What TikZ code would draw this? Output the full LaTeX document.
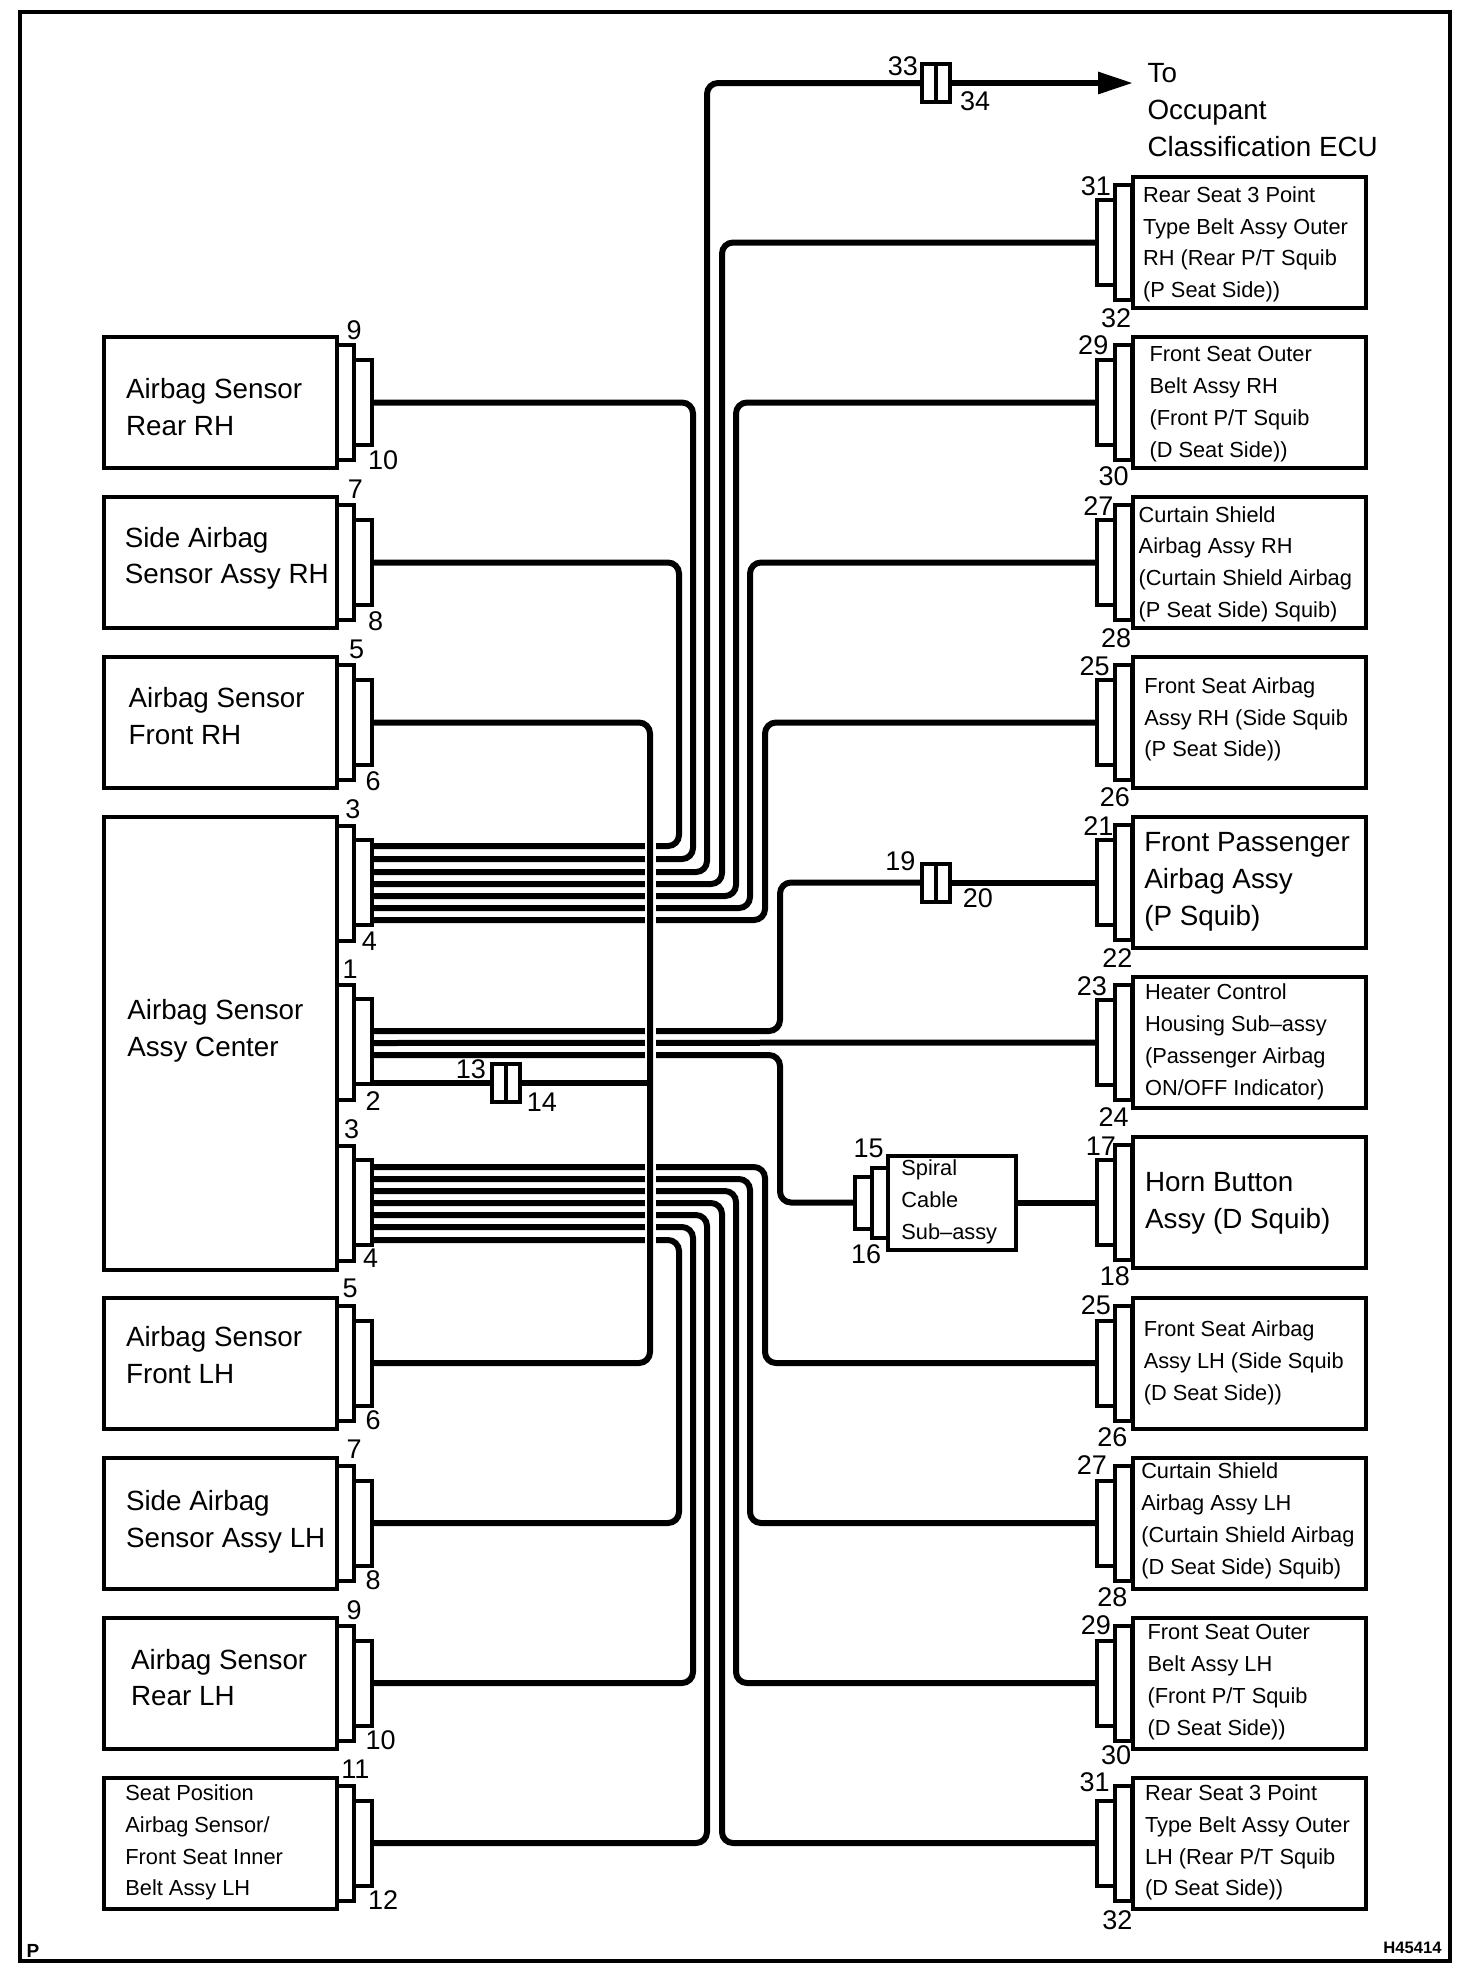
\documentclass[tikz,border=0pt]{standalone}
\usepackage{fontspec}
\setmainfont{Liberation Sans}
\usetikzlibrary{arrows.meta}
\tikzset{
  box/.style={draw,fill=white,line width=2pt,inner sep=0,outer sep=0,minimum width=116.5pt,minimum height=65.5pt},
  plate/.style={draw,fill=white,line width=2pt,inner sep=0,outer sep=0,minimum width=8.5pt,minimum height=57.5pt},
  plug/.style={draw,fill=white,line width=2pt,inner sep=0,outer sep=0,minimum width=9pt,minimum height=42.5pt},
  wire/.style={draw,line width=3pt,rounded corners=5.5pt},
  joint/.style={draw,fill=white,line width=2pt,inner sep=0,outer sep=0,minimum width=14pt,minimum height=19pt},
  big/.style={anchor=west,inner sep=0,align=left,font=\fontsize{13.9}{18.4}\selectfont},
  small/.style={anchor=west,inner sep=0,align=left,font=\fontsize{10.9}{15.9}\selectfont},
  num/.style={inner sep=0,font=\fontsize{13.5}{14}\selectfont},
}
\begin{document}
\begin{tikzpicture}[x=.5pt,y=-.5pt]
\useasboundingbox (0,0) rectangle (1472,1988);
\node[draw,line width=2pt,inner sep=0,outer sep=0,minimum width=715pt,minimum height=974.5pt] (frame) at (735,986.5) {};
% left devices
\foreach \n/\y in {rearRH/402.5,sideRH/562.5,frontRH/722.5,frontLH/1363,sideLH/1523,rearLH/1683,seatLH/1843}{
  \node[plate] (\n P) at (345.5,\y) {};
  \node[plug] (\n C) at (363,\y) {};
  \node[box] (\n) at (220.5,\y) {};
}
\node[box,minimum height=226.5pt] (center) at (220.5,1043.5) {};
\foreach \n/\y in {ca/883,cb/1042.5,cc/1203}{
  \node[plate] (\n P) at (345.5,\y) {};
  \node[plug] (\n C) at (363,\y-1) {};
}
% right devices
\foreach \n/\y in {rbR/242.5,fbR/402.5,csR/562.5,fsR/722.5,fp/882.5,hc/1042.5,horn/1202.5,fsL/1363,csL/1523,fbL/1683,rbL/1843}{
  \node[plate] (\n P) at (1123,\y) {};
  \node[plug] (\n C) at (1105.5,\y) {};
  \node[box] (\n) at (1249,\y) {};
}
% spiral cable
\node[draw,fill=white,line width=2pt,inner sep=0,outer sep=0,minimum width=64pt,minimum height=47pt] (spiral) at (952,1202.5) {};
\node[draw,fill=white,line width=2pt,inner sep=0,outer sep=0,minimum width=8pt,minimum height=35pt] (spiralP) at (880,1202.5) {};
\node[draw,fill=white,line width=2pt,inner sep=0,outer sep=0,minimum width=8.5pt,minimum height=26pt] (spiralC) at (863.5,1202.5) {};
% pin coordinates
\foreach \i/\y in {1/846,2/859,3/872,4/884,5/896,6/908,7/920}{\coordinate (a\i) at (372,\y);}
\foreach \i/\y in {1/1031,2/1043,3/1055,4/1082.5}{\coordinate (b\i) at (372,\y);}
\foreach \i/\y in {1/1167,2/1179,3/1191,4/1203,5/1215,6/1227,7/1240}{\coordinate (c\i) at (372,\y);}
\coordinate (tip) at (1133,83);
% joints
\node[joint] (j33) at (936,83) {};
\node[joint] (j19) at (936,882.5) {};
\node[joint] (j13) at (506,1082.5) {};
% wires, upper group
\draw[wire] (a1) -| (679,562.5) -- (sideRHC.east);
\draw[wire] (a2) -| (693,402.5) -- (rearRHC.east);
\draw[wire] (a3) -| (707,83) -- (j33.west);
\draw[wire,rounded corners=0pt,-{Triangle[length=17.5pt,width=10.5pt]}] (j33.east) -- (tip);
\draw[wire] (a4) -| (722,242.5) -- (rbRC.west);
\draw[wire] (a5) -| (736,402.5) -- (fbRC.west);
\draw[wire] (a6) -| (750,562.5) -- (csRC.west);
\draw[wire] (a7) -| (765,722.5) -- (fsRC.west);
% wires, middle group
\draw[wire] (b1) -| (780,882.5) -- (j19.west);
\draw[wire] (j19.east) -- (fpC.west);
\draw[wire] (b2) -- (hcC.west);
\draw[wire] (b3) -| (780,1202.5) -- (spiralC.west);
\draw[wire] (spiral.east) -- (hornC.west);
% wires, lower group
\draw[wire] (c1) -| (765,1363) -- (fsLC.west);
\draw[wire] (c2) -| (750,1523) -- (csLC.west);
\draw[wire] (c3) -| (736,1683) -- (fbLC.west);
\draw[wire] (c4) -| (722,1843) -- (rbLC.west);
\draw[wire] (c5) -| (707,1843) -- (seatLHC.east);
\draw[wire] (c6) -| (693,1683) -- (rearLHC.east);
\draw[wire] (c7) -| (679,1523) -- (sideLHC.east);
% crossing wire with its gap
\draw[white,line width=5.5pt] (650,838) -- (650,1250);
\draw[wire] (frontRHC.east) -| (650,1363) -- (frontLHC.east);
\draw[wire] (b4) -- (j13.west);
\draw[wire] (j13.east) -- (650,1082.5);
% joint centre bars
\draw[line width=2pt] (j33.north) -- (j33.south);
\draw[line width=2pt] (j19.north) -- (j19.south);
\draw[line width=2pt] (j13.north) -- (j13.south);
\begin{scope}[x=.6345pt,y=-.6345pt]
\node[big] (t1) at (99,321) {Airbag Sensor\\Rear RH};
\node[big] (t2) at (98,440) {Side Airbag\\Sensor Assy RH};
\node[big] (t3) at (101,564) {Airbag Sensor\\Front RH};
\node[big] (t4) at (100,812) {Airbag Sensor\\Assy Center};
\node[big] (t5) at (99,1068) {Airbag Sensor\\Front LH};
\node[big] (t6) at (99,1199) {Side Airbag\\Sensor Assy LH};
\node[big] (t7) at (103,1322) {Airbag Sensor\\Rear LH};
\node[small] (t8) at (98.5,1452) {Seat Position\\Airbag Sensor/\\Front Seat Inner\\Belt Assy LH};
\node[big] (t9) at (904,86.5) {To\\Occupant\\Classification ECU};
\node[small] (t10) at (900.5,192.5) {Rear Seat 3 Point\\Type Belt Assy Outer\\RH (Rear P/T Squib\\(P Seat Side))};
\node[small] (t11) at (905.5,318.5) {Front Seat Outer\\Belt Assy RH\\(Front P/T Squib\\(D Seat Side))};
\node[small] (t12) at (897,444.5) {Curtain Shield\\Airbag Assy RH\\(Curtain Shield Airbag\\(P Seat Side) Squib)};
\node[small] (t13) at (901.5,567) {Front Seat Airbag\\Assy RH (Side Squib\\(P Seat Side))};
\node[big] (t14) at (901.5,695) {Front Passenger\\Airbag Assy\\(P Squib)};
\node[small] (t15) at (902,821) {Heater Control\\Housing Sub–assy\\(Passenger Airbag\\ON/OFF Indicator)};
\node[big] (t16) at (902,948) {Horn Button\\Assy (D Squib)};
\node[small] (t17) at (710,947) {Spiral\\Cable\\Sub–assy};
\node[small] (t18) at (901,1074) {Front Seat Airbag\\Assy LH (Side Squib\\(D Seat Side))};
\node[small] (t19) at (899,1198.5) {Curtain Shield\\Airbag Assy LH\\(Curtain Shield Airbag\\(D Seat Side) Squib)};
\node[small] (t20) at (904,1325.5) {Front Seat Outer\\Belt Assy LH\\(Front P/T Squib\\(D Seat Side))};
\node[small] (t21) at (902,1452) {Rear Seat 3 Point\\Type Belt Assy Outer\\LH (Rear P/T Squib\\(D Seat Side))};
\foreach \t/\a/\b [count=\i] in {9/279/260,10/302/362.5,7/280/385.5,8/296/489.5,5/281/511.5,6/294/615.5,3/278/637.5,4/291/741.5,1/276/763.5,2/294/867.5,3/277/889.5,4/292/991.5,5/276/1015,6/294/1119,7/279/1142,8/294/1245,9/279/1268.5,10/300/1371.5,11/280/1394.5,12/302/1497.5,13/371/842.5,14/427/868.5,33/711.5/52,34/768.5/80,19/709.5/679,20/770.5/708,15/684.5/905,16/682.5/988,31/863.5/147,32/879.5/251,29/861.5/272,30/877.5/375,27/865.5/399,28/879.5/503,25/862.5/525,26/878.5/628,21/865.5/651,22/880.5/755,23/860.5/777,24/877.5/880,17/867.5/903,18/878.5/1006,25/863.5/1028.5,26/876.5/1132.5,27/860.5/1154.5,28/876.5/1258.5,29/863.5/1280.5,30/879.5/1383.5,31/862.5/1404.5,32/880.5/1513.5}{
  \node[num] (num\i) at (\a,\b) {\t};
}
\node[inner sep=0,font=\fontsize{8.3}{9}\selectfont\bfseries] (code) at (1113,1535) {H45414};
\node[inner sep=0,font=\fontsize{9.5}{10}\selectfont\bfseries] (pmark) at (26,1537) {P};
\end{scope}
\end{tikzpicture}
\end{document}
